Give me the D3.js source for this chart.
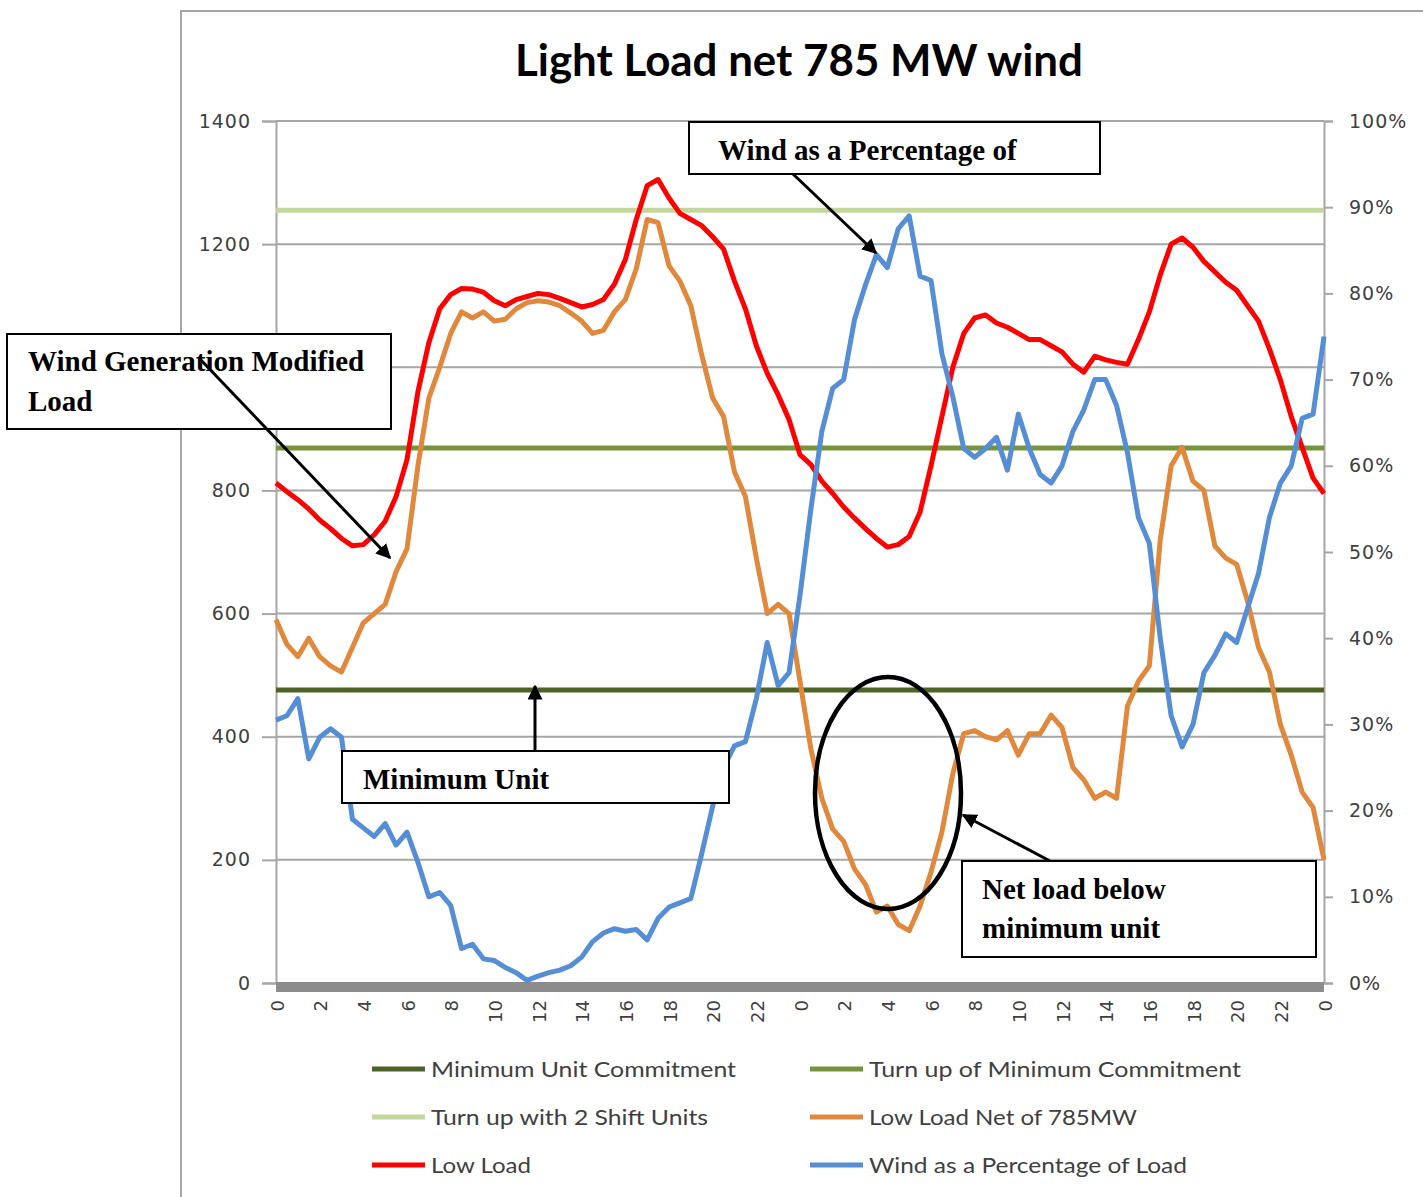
<!DOCTYPE html>
<html>
<head>
<meta charset="utf-8">
<script src="https://cdn.jsdelivr.net/npm/d3@7"></script>
<style>
  html, body { margin: 0; padding: 0; background: #fff; }
  svg { display: block; }
</style>
</head>
<body>
<svg id="chart" width="1423" height="1197"></svg>
<script>
// ---------------- DATA ----------------
const hours = d3.range(0, 48.01, 0.5);
const xTickValues = d3.range(0, 49, 2);
const xTickLabels = ["0","2","4","6","8","10","12","14","16","18","20","22",
                     "0","2","4","6","8","10","12","14","16","18","20","22","0"];
const leftTicks = [0, 200, 400, 600, 800, 1000, 1200, 1400];
const hiddenLeftLabel = 1000; // covered by the annotation box in the reference
const rightTicks = [0, 10, 20, 30, 40, 50, 60, 70, 80, 90, 100];

const minimumUnitCommitment = 476;
const turnUpOfMinimum = 869;
const turnUpWith2Shift = 1255;

const lowLoad = [
  812, 798, 785, 770, 752, 738, 722, 710, 712, 728,
  750, 790, 850, 960, 1040, 1095, 1118, 1128, 1127, 1122,
  1108, 1100, 1110, 1115, 1120, 1118, 1112, 1105, 1098, 1102,
  1110, 1135, 1175, 1240, 1295, 1305, 1275, 1250, 1240, 1230,
  1212, 1192, 1140, 1095, 1035, 990, 955, 915, 858, 842,
  815, 795, 773, 755, 738, 722, 708, 712, 725, 765,
  840, 920, 1000, 1055, 1080, 1085, 1072, 1065, 1055, 1045,
  1045, 1035, 1025, 1005, 992, 1018, 1012, 1008, 1005, 1045,
  1090, 1150, 1200, 1210, 1195, 1172, 1155, 1138, 1125, 1100,
  1075, 1030, 980, 920, 870, 820, 795
];

const lowLoadNet = [
  590, 550, 530, 560, 530, 515, 505, 545, 585, 600,
  615, 668, 705, 840, 950, 1000, 1055, 1090, 1080, 1090,
  1075, 1078, 1095, 1105, 1108, 1106, 1100, 1088, 1075, 1055,
  1060, 1090, 1110, 1160, 1240, 1235, 1165, 1140, 1100, 1020,
  950, 920, 830, 790, 690, 600, 615, 600, 490, 380,
  300, 250, 230, 185, 160, 115, 125, 95, 85, 125,
  180, 245, 340, 405, 410, 400, 395, 410, 370, 405,
  405, 435, 415, 350, 330, 300, 310, 300, 450, 490,
  515, 720, 840, 870, 815, 800, 710, 690, 680, 620,
  545, 505, 420, 370, 310, 285, 200
];

const windPct = [
  30.5, 31, 33, 26, 28.5, 29.5, 28.5, 19, 18, 17,
  18.5, 16, 17.5, 14, 10, 10.5, 9, 4, 4.5, 2.8,
  2.6, 1.8, 1.2, 0.3, 0.8, 1.2, 1.5, 2, 3, 4.8,
  5.8, 6.3, 6, 6.2, 5, 7.5, 8.8, 9.3, 9.8, 15,
  20.5, 25, 27.5, 28, 33, 39.5, 34.5, 36, 45, 55,
  64, 69, 70, 77, 81, 84.5, 83, 87.5, 89, 82,
  81.5, 73, 68, 62, 61, 62, 63.3, 59.5, 66, 62,
  59, 58, 60, 64, 66.5, 70, 70, 67, 61.5, 54,
  51, 40, 31, 27.4, 30, 36, 38, 40.5, 39.5, 43.5,
  47.5, 54, 58, 60, 65.5, 66, 75
];

const legendNames = ["Minimum Unit Commitment", "Turn up of Minimum Commitment",
  "Turn up with 2 Shift Units", "Low Load Net of 785MW",
  "Low Load", "Wind as a Percentage of Load"];
const colors = {
  minUnit: "#4F6228", turnUp: "#77933C", turnUp2: "#C3D69B",
  net: "#E0883C", load: "#FF0000", wind: "#558ED5"
};

// ---------------- CHART ----------------
const svg = d3.select("#chart");
const x = d3.scaleLinear().domain([0, 48]).range([276, 1324]);
const y = d3.scaleLinear().domain([0, 1400]).range([983, 121]);
const y2 = d3.scaleLinear().domain([0, 100]).range([983, 121]);
const gridColor = "#a6a6a6";
const axisFont = "'DejaVu Sans', Verdana, sans-serif";

// outer frame
svg.append("path").attr("d", "M181,1197 V11 H1423")
  .attr("fill", "none").attr("stroke", "#a6a6a6").attr("stroke-width", 2);

// title
svg.append("text").attr("x", 799).attr("y", 76)
  .attr("text-anchor", "middle")
  .attr("font-family", "Lato, 'Open Sans', sans-serif")
  .attr("font-weight", "bold").attr("font-size", 44)
  .attr("textLength", 568).attr("lengthAdjust", "spacingAndGlyphs")
  .attr("fill", "#000").text("Light Load net 785 MW wind");

// gridlines
svg.append("g").selectAll("line").data(leftTicks.filter(d => d > 0)).join("line")
  .attr("x1", x(0)).attr("x2", x(48))
  .attr("y1", d => y(d)).attr("y2", d => y(d))
  .attr("stroke", gridColor).attr("stroke-width", 2);

// left axis
const gl = svg.append("g").attr("transform", `translate(${x(0)},0)`)
  .call(d3.axisLeft(y).tickValues(leftTicks).tickSize(14).tickPadding(11)
    .tickFormat(d => d === hiddenLeftLabel ? "" : d3.format("d")(d)));
gl.select(".domain").attr("stroke", gridColor).attr("stroke-width", 2);
gl.selectAll(".tick line").attr("stroke", gridColor).attr("stroke-width", 2);
gl.selectAll(".tick text").attr("font-family", axisFont).attr("font-size", 19)
  .attr("letter-spacing", 1).attr("fill", "#404040");

// right axis
const gr = svg.append("g").attr("transform", `translate(${x(48)},0)`)
  .call(d3.axisRight(y2).tickValues(rightTicks).tickSize(9).tickPadding(16).tickFormat(d => d + "%"));
gr.select(".domain").attr("stroke", gridColor).attr("stroke-width", 2);
gr.selectAll(".tick line").attr("stroke", gridColor).attr("stroke-width", 2);
gr.selectAll(".tick text").attr("font-family", axisFont).attr("font-size", 19)
  .attr("letter-spacing", 1).attr("fill", "#404040");

// bottom band + x axis
svg.append("rect").attr("x", x(0)).attr("y", y(0) - 1).attr("width", x(48) - x(0)).attr("height", 10)
  .attr("fill", "#8c8c8c");
const gx = svg.append("g").attr("transform", `translate(0,${y(0)})`)
  .call(d3.axisBottom(x).tickValues(xTickValues).tickSize(0).tickFormat((d, i) => xTickLabels[i]));
gx.select(".domain").remove();
gx.selectAll(".tick text")
  .attr("transform", "rotate(-90)")
  .attr("x", -17).attr("y", 1).attr("dy", "0.35em")
  .attr("text-anchor", "end")
  .attr("font-family", axisFont).attr("font-size", 18).attr("fill", "#404040");

// constant lines
const constLines = [
  { v: turnUpWith2Shift, c: colors.turnUp2 },
  { v: turnUpOfMinimum, c: colors.turnUp },
  { v: minimumUnitCommitment, c: colors.minUnit }
];
svg.append("g").selectAll("line").data(constLines).join("line")
  .attr("x1", x(0)).attr("x2", x(48))
  .attr("y1", d => y(d.v)).attr("y2", d => y(d.v))
  .attr("stroke", d => d.c).attr("stroke-width", 5);

// series
const lineL = d3.line().x((d, i) => x(hours[i])).y(d => y(d));
const lineR = d3.line().x((d, i) => x(hours[i])).y(d => y2(d));
svg.append("path").datum(lowLoadNet).attr("d", lineL)
  .attr("fill", "none").attr("stroke", colors.net).attr("stroke-width", 5).attr("stroke-linejoin", "round");
svg.append("path").datum(lowLoad).attr("d", lineL)
  .attr("fill", "none").attr("stroke", colors.load).attr("stroke-width", 5).attr("stroke-linejoin", "round");
svg.append("path").datum(windPct).attr("d", lineR)
  .attr("fill", "none").attr("stroke", colors.wind).attr("stroke-width", 5).attr("stroke-linejoin", "round");

// legend
const legendColors = [colors.minUnit, colors.turnUp, colors.turnUp2, colors.net, colors.load, colors.wind];
const legendWidths = [305, 372, 277, 268, 100, 318];
const lg = svg.append("g");
legendNames.forEach((name, i) => {
  const col = i % 2, row = Math.floor(i / 2);
  const lx = col === 0 ? 372 : 810;
  const ly = 1069 + row * 48;
  lg.append("line").attr("x1", lx).attr("x2", lx + 53).attr("y1", ly).attr("y2", ly)
    .attr("stroke", legendColors[i]).attr("stroke-width", 5);
  lg.append("text").attr("x", lx + 59).attr("y", ly + 8)
    .attr("font-family", "Lato, sans-serif").attr("font-size", 22).attr("fill", "#404040")
    .attr("textLength", legendWidths[i]).attr("lengthAdjust", "spacingAndGlyphs")
    .text(name);
});

// annotations
svg.append("defs").append("marker").attr("id", "arrow")
  .attr("viewBox", "0 0 10 10").attr("refX", 9).attr("refY", 5)
  .attr("markerWidth", 5).attr("markerHeight", 5).attr("orient", "auto")
  .append("path").attr("d", "M0,0 L10,5 L0,10 Z").attr("fill", "#000");

const ann = svg.append("g").attr("font-family", "'Liberation Serif', 'Times New Roman', serif")
  .attr("font-weight", "bold").attr("font-size", 29).attr("fill", "#000");

function box(x0, y0, w, h) {
  ann.append("rect").attr("x", x0).attr("y", y0).attr("width", w).attr("height", h)
    .attr("fill", "#fff").attr("stroke", "#000").attr("stroke-width", 2);
}
function arrow(x1, y1, x2, y2) {
  ann.append("line").attr("x1", x1).attr("y1", y1).attr("x2", x2).attr("y2", y2)
    .attr("stroke", "#000").attr("stroke-width", 3).attr("marker-end", "url(#arrow)");
}

// Box 1
box(7, 334, 384, 95);
ann.append("text").attr("x", 28).attr("y", 371).text("Wind Generation Modified");
ann.append("text").attr("x", 28).attr("y", 411).text("Load");
arrow(199, 358, 390, 558);

// Box 2
box(689, 122, 411, 52);
ann.append("text").attr("x", 718).attr("y", 160).text("Wind as a Percentage of");
arrow(793, 174, 876, 253);

// Box 3
box(342, 751, 387, 52);
ann.append("text").attr("x", 363).attr("y", 789).text("Minimum Unit");
arrow(535, 751, 535, 686);

// Box 4
box(962, 861, 354, 96);
ann.append("text").attr("x", 982).attr("y", 899).text("Net load below");
ann.append("text").attr("x", 982).attr("y", 938).text("minimum unit");
arrow(1050, 861, 963, 815);

// ellipse
ann.append("ellipse").attr("cx", 888).attr("cy", 793).attr("rx", 73).attr("ry", 116)
  .attr("fill", "none").attr("stroke", "#000").attr("stroke-width", 4.5);
</script>
</body>
</html>
